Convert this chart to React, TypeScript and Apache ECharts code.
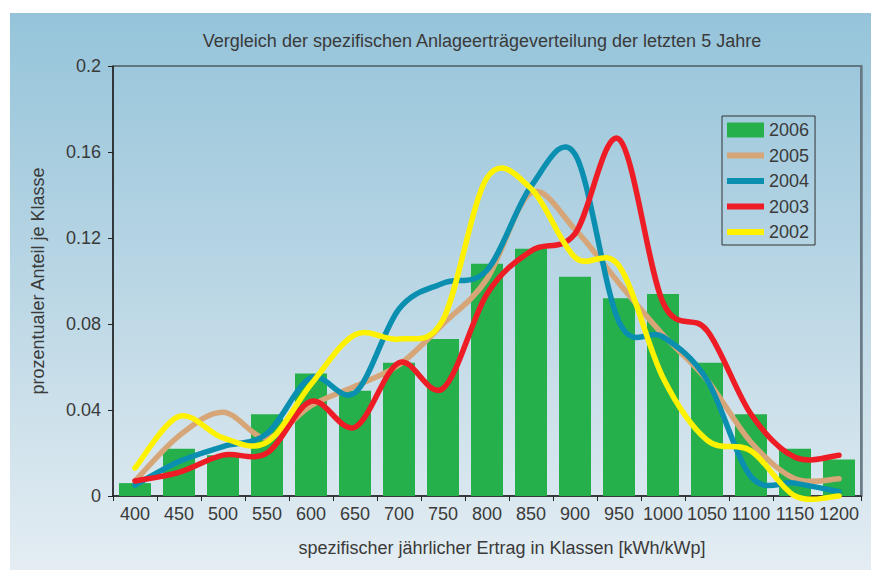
import React, { useEffect, useRef } from 'react';
import * as echarts from 'echarts';

const categories = ['400', '450', '500', '550', '600', '650', '700', '750', '800', '850', '900', '950', '1000', '1050', '1100', '1150', '1200'];
const yTicks = [0, 0.04, 0.08, 0.12, 0.16, 0.2];
const y2006 = [0.006, 0.022, 0.019, 0.038, 0.057, 0.049, 0.062, 0.073, 0.108, 0.115, 0.102, 0.092, 0.094, 0.062, 0.038, 0.022, 0.017];
const y2005 = [0.007, 0.028, 0.039, 0.027, 0.042, 0.051, 0.061, 0.080, 0.101, 0.141, 0.124, 0.099, 0.075, 0.054, 0.025, 0.008, 0.008];
const y2004 = [0.005, 0.016, 0.023, 0.029, 0.055, 0.048, 0.087, 0.099, 0.105, 0.144, 0.159, 0.081, 0.074, 0.054, 0.009, 0.006, 0.002];
const y2003 = [0.007, 0.011, 0.019, 0.020, 0.044, 0.032, 0.062, 0.050, 0.094, 0.114, 0.122, 0.166, 0.090, 0.077, 0.038, 0.018, 0.019];
const y2002 = [0.013, 0.037, 0.027, 0.025, 0.052, 0.075, 0.073, 0.082, 0.148, 0.143, 0.111, 0.107, 0.055, 0.026, 0.021, 0.0, 0.0];

const titleText = 'Vergleich der spezifischen Anlageerträgeverteilung der letzten 5 Jahre';
const xName = 'spezifischer jährlicher Ertrag in Klassen [kWh/kWp]';
const yName = 'prozentualer Anteil je Klasse';

const FONT = 'Liberation Sans';
const TXT = '#3a3a3a';

export default function App() {
  const ref = useRef<HTMLDivElement>(null);
  useEffect(() => {
    document.body.style.margin = '0';
    const chart = echarts.init(ref.current!, null, { renderer: 'svg' });
    const lineIcon = 'path://M0,0H37V6H0Z';
    // Smoothed (Catmull-Rom style) line drawn through the axis scales via api.coord
    const splineSeries = (name: string, values: number[], color: string) => ({
      name,
      type: 'custom',
      data: values.map((v, i) => [i, v]),
      encode: { x: 0, y: 1 },
      color,
      itemStyle: { color },
      z: 3,
      renderItem: (params: any, api: any) => {
        if (params.dataIndex !== 0) return null;
        const p = values.map((v, i) => api.coord([i, v]) as number[]);
        const n = p.length;
        let d = `M${p[0][0]},${p[0][1]}`;
        for (let i = 0; i < n - 1; i++) {
          const p0 = p[Math.max(i - 1, 0)];
          const p1 = p[i];
          const p2 = p[i + 1];
          const p3 = p[Math.min(i + 2, n - 1)];
          const c1x = p1[0] + (p2[0] - p0[0]) / 6;
          const c1y = p1[1] + (p2[1] - p0[1]) / 6;
          const c2x = p2[0] - (p3[0] - p1[0]) / 6;
          const c2y = p2[1] - (p3[1] - p1[1]) / 6;
          d += ` C${c1x},${c1y} ${c2x},${c2y} ${p2[0]},${p2[1]}`;
        }
        return {
          type: 'path',
          shape: { pathData: d },
          style: { stroke: color, lineWidth: 5.5, fill: 'none', lineCap: 'round', lineJoin: 'round' },
        };
      },
    });
    chart.setOption({
      animation: false,
      textStyle: { fontFamily: FONT },
      graphic: [
        {
          type: 'rect',
          left: 10,
          top: 13,
          z: -100,
          silent: true,
          shape: { width: 861, height: 557 },
          style: {
            fill: new echarts.graphic.LinearGradient(0, 0, 0, 1, [
              { offset: 0, color: '#95c4da' },
              { offset: 0.5, color: '#bbd7e5' },
              { offset: 1, color: '#e4edf3' },
            ]),
          },
        },
        {
          type: 'text',
          x: 482,
          y: 41,
          style: { text: titleText, align: 'center', verticalAlign: 'middle', font: `18px "${FONT}"`, fill: TXT },
        },
        {
          type: 'text',
          x: 502,
          y: 548,
          style: { text: xName, align: 'center', verticalAlign: 'middle', font: `18px "${FONT}"`, fill: TXT },
        },
        {
          type: 'text',
          x: 38,
          y: 281,
          rotation: Math.PI / 2,
          style: { text: yName, align: 'center', verticalAlign: 'middle', font: `18px "${FONT}"`, fill: TXT },
        },
      ],
      grid: {
        left: 113,
        right: 10,
        top: 66,
        bottom: 74,
        containLabel: false,
        outerBoundsMode: 'none',
        show: true,
        borderColor: '#222',
        borderWidth: 1,
        backgroundColor: 'transparent',
      },
      legend: {
        orient: 'vertical',
        left: 722,
        top: 116,
        padding: [5, 6, 4, 5],
        itemWidth: 37,
        itemHeight: 15,
        itemGap: 7.5,
        borderColor: '#333',
        borderWidth: 1,
        textStyle: { fontSize: 18, color: TXT, fontFamily: FONT },
        data: [
          { name: '2006', icon: 'rect' },
          { name: '2005', icon: lineIcon },
          { name: '2004', icon: lineIcon },
          { name: '2003', icon: lineIcon },
          { name: '2002', icon: lineIcon },
        ],
      },
      xAxis: {
        type: 'category',
        data: categories,
        boundaryGap: true,
        axisLine: { lineStyle: { color: '#222', width: 1.5 } },
        axisTick: { show: true, length: 5, lineStyle: { color: '#222' } },
        axisLabel: { interval: 0, fontSize: 18, color: TXT, margin: 9, fontFamily: FONT },
        splitLine: { show: false },
      },
      yAxis: [
        {
          type: 'value',
          min: 0,
          max: 0.2,
          interval: 0.04,
          axisLine: { show: true, lineStyle: { color: '#222', width: 1.5 } },
          axisTick: { show: true, length: 5, lineStyle: { color: '#222' } },
          axisLabel: {
            fontSize: 18,
            color: TXT,
            margin: 12,
            fontFamily: FONT,
            formatter: (v: number) => {
              const t = yTicks.find((k) => Math.abs(k - v) < 1e-9);
              return String(t !== undefined ? t : v);
            },
          },
          splitLine: { show: false },
        },
        {
          type: 'value',
          position: 'right',
          min: 0,
          max: 0.2,
          interval: 0.04,
          axisLine: { show: true, lineStyle: { color: '#6a7a86', width: 2.5 } },
          axisTick: { show: false },
          axisLabel: { show: false },
          splitLine: { show: false },
        },
      ],
      series: [
        {
          name: '2006',
          type: 'bar',
          data: y2006,
          barWidth: 32,
          color: '#25b04b',
          itemStyle: { color: '#25b04b' },
          z: 2,
        },
        splineSeries('2005', y2005, '#d7a678'),
        splineSeries('2004', y2004, '#0a8fb1'),
        splineSeries('2003', y2003, '#ee1c25'),
        splineSeries('2002', y2002, '#fff200'),
      ],
    });
    return () => chart.dispose();
  }, []);
  return <div ref={ref} style={{ position: 'absolute', left: 0, top: 0, width: 871, height: 570 }} />;
}
